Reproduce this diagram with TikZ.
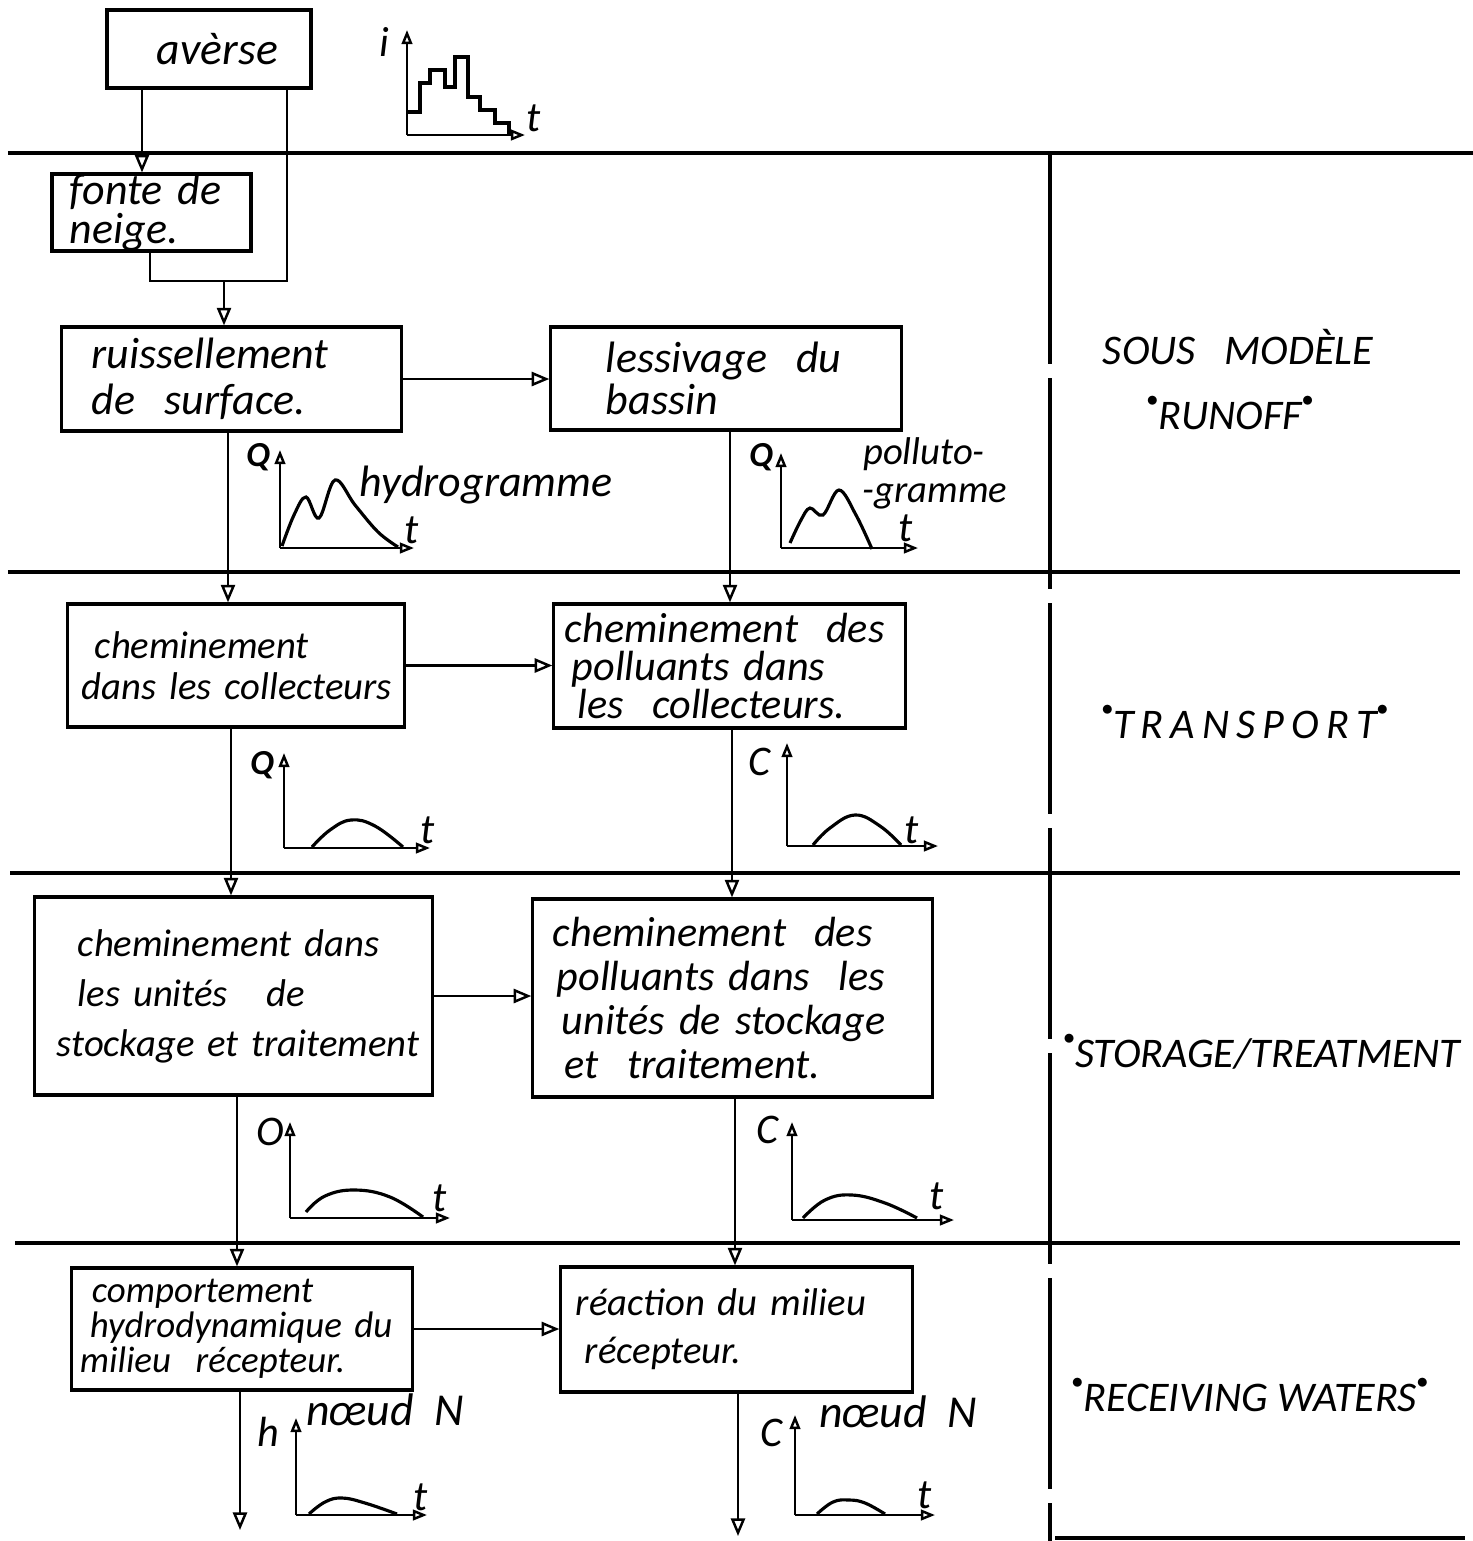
\documentclass[tikz,border=0pt]{standalone}
\usepackage{fontspec}
\setmainfont{Carlito}
\usetikzlibrary{arrows.meta}
\newcommand\bx[2]{\itshape\fontsize{#1}{#2}\selectfont}
\newcommand\qd{\raisebox{0.55em}{\scalebox{0.55}{$\bullet$}}}
\begin{document}
\begin{tikzpicture}[x=0.01cm,y=-0.01cm,
  box/.style={draw,line width=0.9pt,inner ysep=0pt,align=left,
    execute at begin node={\hyphenpenalty=10000\exhyphenpenalty=10000\hbadness=10000}},
  arr/.style={line width=0.7pt,-{Triangle[open,length=5pt,width=4pt]}},
  ln/.style={line width=0.7pt},
  sep/.style={line width=0.9pt},
  ax/.style={line width=0.7pt,-{Triangle[open,length=4pt,width=3pt]}},
  crv/.style={line width=0.9pt},
  lbl/.style={inner sep=0pt,font=\bx{12}{12}},
  tag/.style={inner sep=0pt,font=\bx{12}{12}}]
\useasboundingbox (0,0) rectangle (1473,1541);

% separators
\draw[sep] (8,153) -- (1473,153);
\draw[sep] (8,572) -- (1460,572);
\draw[sep] (10,873) -- (1460,873);
\draw[sep] (15,1243) -- (1460,1243);
\draw[sep] (1055,1538) -- (1465,1538);
\draw[line width=1.3pt,dash pattern=on 60pt off 4pt] (1050,153) -- (1050,1541);

% boxes
\node[box,minimum height=0.78cm,text width=1.04cm,inner xsep=0.5cm,font=\bx{13}{14}] (avr) at (209,49) {avèrse};
\node[box,minimum height=0.69cm,text width=1.63cm,inner xsep=0.18cm,font=\bx{12.5}{9.5}] (fonte) at (151.5,212.5) {fonte de\\neige.};
\node[box,minimum height=1.04cm,text width=2.79cm,inner xsep=0.30cm,font=\bx{12.5}{13}] (ruis) at (231.5,379) {ruissellement\\de\ \ surface.};
\node[box,minimum height=1.03cm,text width=2.40cm,inner xsep=0.55cm,font=\bx{12.5}{12}] (less) at (726,378.5) {lessivage\ \ du\\bassin};
\node[box,minimum height=1.23cm,text width=3.18cm,inner xsep=0.09cm,font=\bx{11}{11.5}] (chA) at (236,665.5) {\hspace*{0.18cm}cheminement\\\hspace*{0.05cm}dans les collecteurs};
\node[box,minimum height=1.24cm,text width=3.29cm,inner xsep=0.11cm,font=\bx{12}{10.8}] (chB) at (729.5,666) {cheminement\ \ des\\\hspace*{0.07cm}polluants dans\\\hspace*{0.13cm}les\ \ collecteurs.};
\node[box,minimum height=1.98cm,text width=3.87cm,inner xsep=0.05cm,font=\bx{11}{14.2}] (stA) at (233.5,996) {\hspace*{0.38cm}cheminement dans\\\hspace*{0.38cm}les unités\ \ \ de\\\hspace*{0.17cm}stockage et traitement};
\node[box,minimum height=1.98cm,text width=3.59cm,inner xsep=0.20cm,font=\bx{12}{12.6}] (stB) at (732.5,998) {cheminement\ \ des\\\hspace*{0.04cm}polluants dans\ \ les\\\hspace*{0.09cm}unités de stockage\\\hspace*{0.12cm}et\ \ traitement.};
\node[box,minimum height=1.22cm,text width=3.24cm,inner xsep=0.08cm,font=\bx{10.5}{10}] (comp) at (242,1329) {\hspace*{0.12cm}comportement\\\hspace*{0.10cm}hydrodynamique du\\milieu\ \ récepteur.};
\node[box,minimum height=1.25cm,text width=3.21cm,inner xsep=0.15cm,font=\bx{11}{13.7}] (reac) at (736.5,1329.5) {réaction du milieu\\\hspace*{0.09cm}récepteur.};

% column coordinates
\coordinate (xa) at (142,0);
\coordinate (xb) at (287,0);
\coordinate (jR) at (287,281);
\coordinate (jL) at (150,281);
\coordinate (jM) at (224,281);
\coordinate (c1) at (228,0);
\coordinate (c2) at (730,0);
\coordinate (c3) at (231,0);
\coordinate (c4) at (732,0);
\coordinate (c5) at (237,0);
\coordinate (c6) at (735,0);
\coordinate (c7) at (240,0);
\coordinate (c8) at (738,0);
\coordinate (end1) at (240,1530);
\coordinate (end2) at (738,1536);

% connectors
\draw[arr] (avr.south -| xa) -- (fonte.north -| xa);
\draw[ln] (avr.south -| xb) -- (jR) -- (jL) -- (fonte.south -| jL);
\draw[arr] (jM) -- (ruis.north -| jM);
\draw[arr] (ruis.east) -- (less.west |- ruis.east);
\draw[arr] (ruis.south -| c1) -- (chA.north -| c1);
\draw[arr] (less.south -| c2) -- (chB.north -| c2);
\draw[arr] (chA.east) -- (chB.west |- chA.east);
\draw[arr] (chA.south -| c3) -- (stA.north -| c3);
\draw[arr] (chB.south -| c4) -- (stB.north -| c4);
\draw[arr] (stA.east) -- (stB.west |- stA.east);
\draw[arr] (stA.south -| c5) -- (comp.north -| c5);
\draw[arr] (stB.south -| c6) -- (reac.north -| c6);
\draw[arr] (comp.east) -- (reac.west |- comp.east);
\draw[arr] (comp.south -| c7) -- (end1);
\draw[arr] (reac.south -| c8) -- (end2);

% hyetograph
\draw[ax] (407,135) -- (407,30);
\draw[ax] (407,135) -- (525,135);
\draw[crv] (407,112) -- (420,112) -- (420,83) -- (430,83) -- (430,70) -- (445,70) -- (445,87) -- (455,87) -- (455,57) -- (468,57) -- (468,97) -- (480,97) -- (480,110) -- (495,110) -- (495,123) -- (509,123) -- (509,135);
\node[lbl] (li) at (384,42) {i};
\node[lbl] (lt0) at (534,118) {t};

% hydrogramme
\draw[ax] (280,548) -- (280,450);
\draw[ax] (280,548) -- (414,548);
\draw[crv] plot[smooth,tension=0.6] coordinates {(282,546) (294,515) (306,497) (319,518) (335,480) (355,505) (378,532) (398,547)};
\node[lbl,font=\bx{10}{10}\bfseries] (lq1) at (258,457) {Q};
\node[lbl,font=\bx{12.5}{12.5}] (lh) at (486,485) {hydrogramme};
\node[lbl] (lt1) at (412,530) {t};

% pollutogramme
\draw[ax] (781,548) -- (781,453);
\draw[ax] (781,548) -- (918,548);
\draw[crv] plot[smooth,tension=0.6] coordinates {(790,543) (801,520) (810,508) (823,515) (839,490) (856,515) (872,549)};
\node[lbl,font=\bx{10}{10}\bfseries] (lq2) at (761,457) {Q};
\node[lbl,font=\bx{11}{11}] (lp1) at (924,454) {polluto-};
\node[lbl,font=\bx{11}{11}] (lp2) at (935,496) {-gramme};
\node[lbl] (lt2) at (906,528) {t};

% transport charts
\draw[ax] (284,848) -- (284,753);
\draw[ax] (284,848) -- (430,848);
\draw[crv] plot[smooth,tension=0.7] coordinates {(312,847) (330,830) (351,820) (375,826) (403,847)};
\node[lbl,font=\bx{10}{10}\bfseries] (lq3) at (262,765) {Q};
\node[lbl] (lt3) at (428,830) {t};

\draw[ax] (787,846) -- (787,743);
\draw[ax] (787,846) -- (938,846);
\draw[crv] plot[smooth,tension=0.7] coordinates {(813,845) (830,828) (855,815) (880,826) (901,845)};
\node[lbl] (lc1) at (760,762) {C};
\node[lbl] (lt4) at (912,830) {t};

% storage charts
\draw[ax] (290,1218) -- (290,1122);
\draw[ax] (290,1218) -- (450,1218);
\draw[crv] plot[smooth,tension=0.7] coordinates {(306,1212) (325,1196) (355,1190) (390,1197) (423,1217)};
\node[lbl] (lo) at (270,1132) {O};
\node[lbl] (lt5) at (440,1198) {t};

\draw[ax] (792,1220) -- (792,1122);
\draw[ax] (792,1220) -- (954,1220);
\draw[crv] plot[smooth,tension=0.7] coordinates {(803,1218) (825,1200) (852,1195) (885,1203) (917,1218)};
\node[lbl] (lc2) at (768,1130) {C};
\node[lbl] (lt6) at (937,1196) {t};

% receiving charts
\draw[ax] (296,1515) -- (296,1418);
\draw[ax] (296,1515) -- (427,1515);
\draw[crv] plot[smooth,tension=0.7] coordinates {(309,1514) (325,1502) (342,1498) (365,1503) (397,1514)};
\node[lbl] (lhh) at (268,1432) {h};
\node[lbl,font=\bx{13}{13}] (ln1) at (385,1410) {nœud\ \ N};
\node[lbl] (lt7) at (421,1497) {t};

\draw[ax] (795,1515) -- (795,1415);
\draw[ax] (795,1515) -- (935,1515);
\draw[crv] plot[smooth,tension=0.7] coordinates {(817,1514) (833,1502) (849,1500) (865,1503) (885,1514)};
\node[lbl] (lc3) at (772,1433) {C};
\node[lbl,font=\bx{13}{13}] (ln2) at (898,1412) {nœud\ \ N};
\node[lbl] (lt8) at (925,1495) {t};

% right column tags
\node[tag] (tg1) at (1238,347) {SOUS\ \ \ MODÈLE};
\node[tag] (tg2) at (1230,413) {\qd RUNOFF\qd};
\node[tag] (tg3) at (1245,722) {\qd T\,R\,A\,N\,S\,P\,O\,R\,T\qd};
\node[tag] (tg4) at (1262,1052) {\qd STORAGE/TREATMENT};
\node[tag] (tg5) at (1250,1395) {\qd RECEIVING WATERS\qd};
\end{tikzpicture}
\end{document}
